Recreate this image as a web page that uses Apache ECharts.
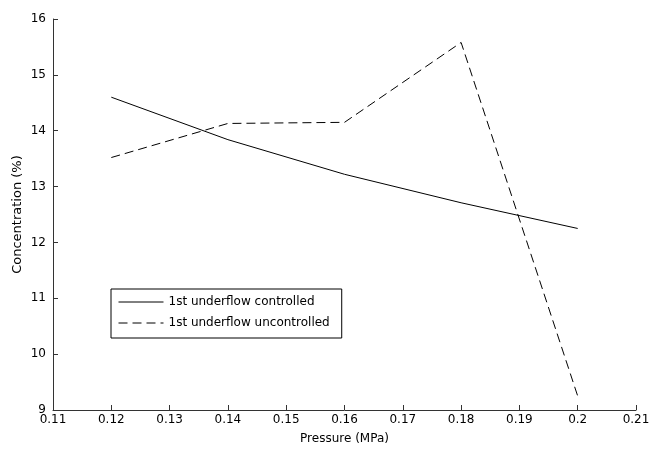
<!DOCTYPE html>
<html>
<head>
<meta charset="utf-8">
<script src="https://cdn.jsdelivr.net/npm/echarts@6/dist/echarts.min.js"></script>
<style>
  html, body { margin: 0; padding: 0; background: #fff; }
  #chart { width: 649px; height: 450px; }
</style>
</head>
<body>
<div id="chart"></div>
<script>
// pressure (MPa) at each measurement
const pressure = [0.12, 0.14, 0.16, 0.18, 0.2];
// concentration (%)
const controlled = [14.6, 13.84, 13.22, 12.71, 12.25];
const uncontrolled = [13.52, 14.13, 14.15, 15.58, 9.25];

const chart = echarts.init(document.getElementById('chart'));

const pairs = (ys) => pressure.map((x, i) => [x, ys[i]]);
const fontFamily = 'DejaVu Sans, sans-serif';
const axisColor = '#333';

chart.setOption({
  animation: false,
  backgroundColor: '#fff',
  // keep the plot box fixed, labels may overhang the edges
  grid: { left: 53, right: 13, top: 19, bottom: 40, outerBoundsMode: 'none' },
  legend: {
    orient: 'vertical',
    left: 111,
    top: 289,
    itemWidth: 45,
    itemHeight: 12,
    itemGap: 9,
    padding: [7, 12, 9, 7],
    borderColor: '#000',
    borderWidth: 1,
    itemStyle: { opacity: 0 },
    lineStyle: { width: 1 },
    textStyle: { fontFamily, fontSize: 12, color: '#000' },
    data: ['1st underflow controlled', '1st underflow uncontrolled']
  },
  xAxis: {
    type: 'value',
    min: 0.11,
    max: 0.21,
    interval: 0.01,
    name: 'Pressure (MPa)',
    nameLocation: 'middle',
    nameGap: 23,
    nameMoveOverlap: false,
    nameTextStyle: { fontFamily, fontSize: 12, color: '#000' },
    axisLine: { lineStyle: { color: axisColor } },
    axisTick: { inside: true, length: 5, lineStyle: { color: axisColor } },
    axisLabel: {
      fontFamily, fontSize: 12, color: '#000', margin: 4,
      formatter: (v) => String(+v.toFixed(2))
    },
    splitLine: { show: false }
  },
  yAxis: {
    type: 'value',
    min: 9,
    max: 16,
    interval: 1,
    name: 'Concentration (%)',
    nameLocation: 'middle',
    nameGap: 29,
    nameMoveOverlap: false,
    nameTextStyle: { fontFamily, fontSize: 13, color: '#000' },
    axisLine: { show: true, lineStyle: { color: axisColor } },
    axisTick: { show: true, inside: true, length: 5, lineStyle: { color: axisColor } },
    axisLabel: { fontFamily, fontSize: 12, color: '#000', margin: 7 },
    splitLine: { show: false }
  },
  series: [
    {
      name: '1st underflow controlled',
      type: 'line',
      data: pairs(controlled),
      symbol: 'none',
      color: '#000',
      lineStyle: { color: '#000', width: 1 }
    },
    {
      name: '1st underflow uncontrolled',
      type: 'line',
      data: pairs(uncontrolled),
      symbol: 'none',
      color: '#000',
      lineStyle: { color: '#000', width: 1, type: [9, 5] }
    }
  ]
});
</script>
</body>
</html>
